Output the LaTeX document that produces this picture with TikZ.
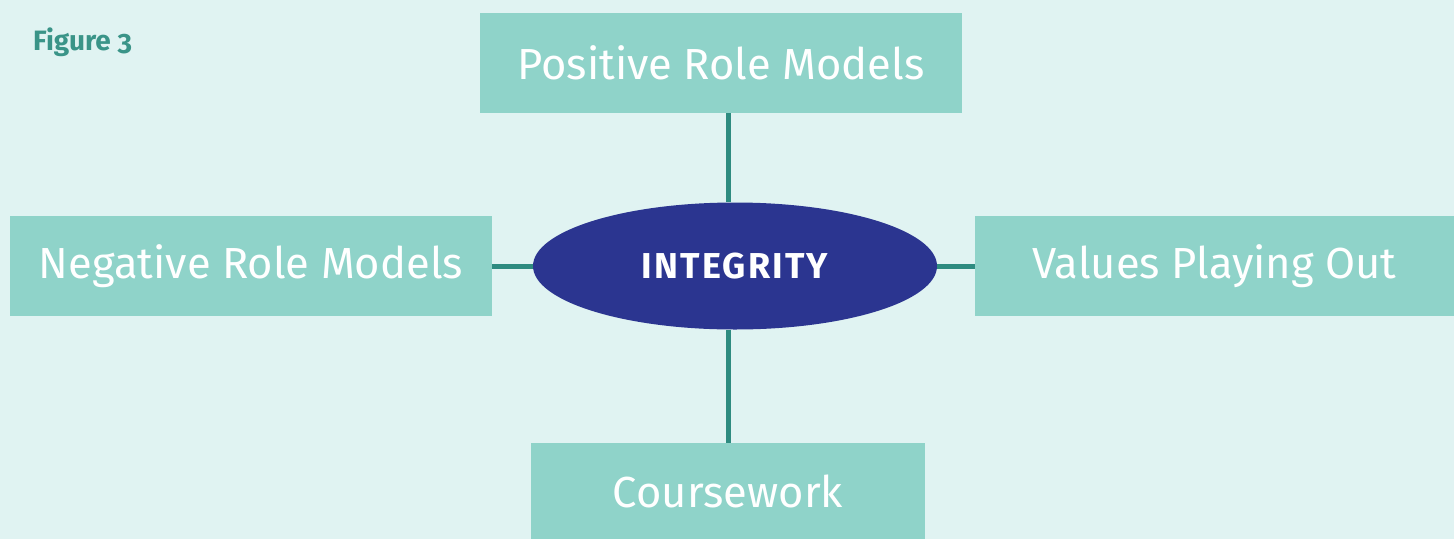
\documentclass[tikz,border=0pt]{standalone}
\usepackage{fontspec}
\setmainfont{Fira Sans}
\newfontfamily\figfont[Numbers=OldStyle]{Fira Sans}
\newfontfamily\hubfont[LetterSpace=6]{Fira Sans}
\usetikzlibrary{shapes.geometric}

\definecolor{bgteal}{HTML}{E0F3F2}
\definecolor{boxteal}{HTML}{8FD3C9}
\definecolor{linkteal}{HTML}{2E8B80}
\definecolor{hubblue}{HTML}{2B3590}
\definecolor{figteal}{HTML}{3A9488}

\tikzset{
  topic/.style={fill=boxteal, text=white, inner sep=0pt, minimum height=100pt,
                font=\fontsize{43.5}{48}\selectfont},
  hub/.style={ellipse, fill=hubblue, text=white, inner sep=0pt,
              minimum width=404pt, minimum height=127pt,
              font=\hubfont\bfseries\fontsize{36}{40}\selectfont},
  link/.style={draw=linkteal, line width=5pt}
}

\begin{document}
\begin{tikzpicture}[x=1pt,y=-1pt]

\fill[bgteal] (0,0) rectangle (1454,539);
\useasboundingbox (0,0) rectangle (1454,539);

\node[anchor=base west, text=figteal, inner sep=0pt,
      font=\figfont\bfseries\fontsize{28}{32}\selectfont] (fig) at (33,50) {Figure 3};

\node (hub) [hub] at (735,266) {INTEGRITY};

\node (pos) [topic, minimum width=482pt] at (721,63) {Positive Role Models};
\node (neg) [topic, minimum width=482pt] at (251,266) {Negative Role Models};
\node (val) [topic, minimum width=479pt] at (1214.5,266) {Values Playing Out};
\node (crs) [topic, minimum width=394pt, minimum height=96pt] at (728,491) {Coursework};

\draw[link] (pos.south -| crs.north) -- (hub.north -| crs.north);
\draw[link] (hub.south -| crs.north) -- (crs.north);
\draw[link] (neg.east) -- (hub.west);
\draw[link] (hub.east) -- (val.west);

\end{tikzpicture}
\end{document}
